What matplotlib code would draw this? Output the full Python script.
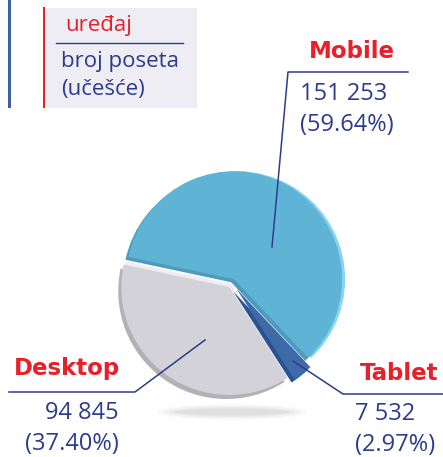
import matplotlib.pyplot as plt
from matplotlib.patches import Ellipse, Rectangle

# data
devices = ['Mobile', 'Tablet', 'Desktop']
visits = [151253, 7532, 94845]
legend_title = 'uređaj'
legend_lines = ['broj poseta', '(učešće)']

W, H = 443, 457
total = sum(visits)
shares = [v / total * 100 for v in visits]

red = '#e8202a'
navy = '#2d3b8e'
main_colors = ['#5fb4d6', '#3e6aa8', '#d4d2d9']


def Y(y):
    # pixel rows from the top -> data y
    return H - y


fig = plt.figure(figsize=(W / 100, H / 100), dpi=100)
ax = fig.add_axes([0, 0, 1, 1])

cx, cy, r = 232, 283, 108
# pie explode is in data units, so scale by the radius
explode = [f * r for f in (0.04, 0.065, 0.045)]

# soft shadow under the pie
for i, a in enumerate([0.05, 0.07, 0.09, 0.12]):
    ax.add_patch(Ellipse((232, Y(412)), 150 - i * 12, 16 - i * 3,
                         color='#9a9a9a', alpha=a, lw=0))

# bevel layers (shift, colours per wedge), then the top face
layers = [
    ((3, 0), ['#86d4f1', 'none', 'none']),
    ((2, 3), ['none', 'none', '#eeedf2']),
    ((-3, -3), ['#4e9cbd', '#2b5391', 'none']),
    ((-3, -4), ['none', 'none', '#b3b1b8']),
    ((0, 0), main_colors),
]
for (dx, dy), cols in layers:
    ax.pie(visits, colors=cols, explode=explode, startangle=168,
           counterclock=False, radius=r, center=(cx + dx, Y(cy) + dy),
           wedgeprops=dict(linewidth=0))

ax.set_xlim(0, W)
ax.set_ylim(0, H)
ax.set_aspect('auto')
ax.axis('off')

# legend box
ax.add_patch(Rectangle((8, Y(108)), 3, 108, color='#3d5fa8', lw=0))
ax.add_patch(Rectangle((45, Y(108)), 152, 100, color='#efedf4', lw=0))
ax.add_patch(Rectangle((43, Y(108)), 2, 101, color=red, lw=0))
ax.plot([56, 183], [Y(43), Y(43)], color=navy, lw=1)
ax.text(65, Y(26), legend_title, color=red, fontsize=16,
        family='Open Sans', va='center', ha='left')
ax.text(61, Y(61), legend_lines[0], color=navy, fontsize=16,
        family='Open Sans', va='center', ha='left')
ax.text(61, Y(89), legend_lines[1], color=navy, fontsize=16,
        family='Open Sans', va='center', ha='left')

# labels: name pos, number pos, alignment, leader line
layout = {
    'Mobile': dict(name=(352, 52, 'center'), num=(300, 94, 'left'),
                   line=[(272, 247), (288, 72), (408, 72)]),
    'Desktop': dict(name=(67, 369, 'center'), num=(119, 413, 'right'),
                    line=[(205, 340), (135, 392), (9, 392)]),
    'Tablet': dict(name=(399, 374, 'center'), num=(355, 414, 'left'),
                   line=[(293, 361), (343, 394), (443, 394)]),
}

for name, v, s in zip(devices, visits, shares):
    L = layout[name]
    xs = [p[0] for p in L['line']]
    ys = [Y(p[1]) for p in L['line']]
    ax.plot(xs, ys, color=navy, lw=1.1)
    nx, ny, nha = L['name']
    ax.text(nx, Y(ny), name, color=red, fontsize=16.5, fontweight='bold',
            family='DejaVu Sans', ha=nha, va='center')
    tx, ty, tha = L['num']
    ax.text(tx, Y(ty), f'{v:,}'.replace(',', ' '), color=navy, fontsize=17,
            family='Open Sans', ha=tha, va='center')
    ax.text(tx, Y(ty + 31), f'({s:.2f}%)', color=navy, fontsize=17,
            family='Open Sans', ha=tha, va='center')

fig.savefig('out.png', dpi=100)
